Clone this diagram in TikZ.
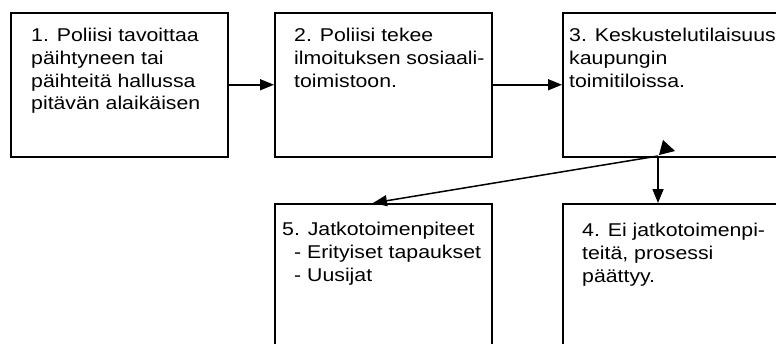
\documentclass[tikz,border=0pt]{standalone}
\usepackage{fontspec}
\setmainfont{Liberation Sans}[FakeStretch=1.15]
\usetikzlibrary{arrows.meta}
\begin{document}
\begin{tikzpicture}[x=1pt,y=1pt,
  box/.style={draw=black, line width=1.5pt, fill=white, minimum width=217pt, minimum height=144pt, anchor=north west, inner sep=0pt},
  boxwide/.style={box, minimum width=260pt},
  txt/.style={anchor=north west, align=left, inner sep=0pt, font=\fontsize{18.5}{22.8}\selectfont},
  conn/.style={line width=1.5pt, -{Triangle[length=14pt,width=11pt]}}]
\useasboundingbox (0,0) rectangle (776,-343);
\node[box] (b1) at (10,-12) {};
\node[box] (b2) at (274,-12) {};
\node[boxwide] (b3) at (562,-12) {};
\node[box] (b5) at (274,-203) {};
\node[boxwide] (b4) at (562,-203) {};
\node[txt] (t1) at (31,-27.8) {1. Poliisi tavoittaa\\päihtyneen tai\\päihteitä hallussa\\pitävän alaikäisen};
\node[txt] (t2) at (294,-27.8) {2. Poliisi tekee\\ilmoituksen sosiaali-\\toimistoon.};
\node[txt] (t3) at (569,-27.8) {3. Keskustelutilaisuus\\kaupungin\\toimitiloissa.};
\node[txt] (t5) at (282,-221.8) {5. Jatkotoimenpiteet\\\hspace*{12pt}- Erityiset tapaukset\\\hspace*{12pt}- Uusijat};
\node[txt] (t4) at (582,-222.8) {4. Ei jatkotoimenpi-\\teitä, prosessi\\päättyy.};
\coordinate (j) at (658,-156);
\coordinate (e5) at (373,-203);
\draw[conn] (b1.east) -- (b2.west);
\draw[conn] (b2.east) -- (b3.west);
\draw[conn] (j) -- (j |- b4.north);
\draw[conn] (j) -- (e5);
\fill (663,-140) -- (675,-151) -- (659,-155) -- cycle;
\end{tikzpicture}
\end{document}
